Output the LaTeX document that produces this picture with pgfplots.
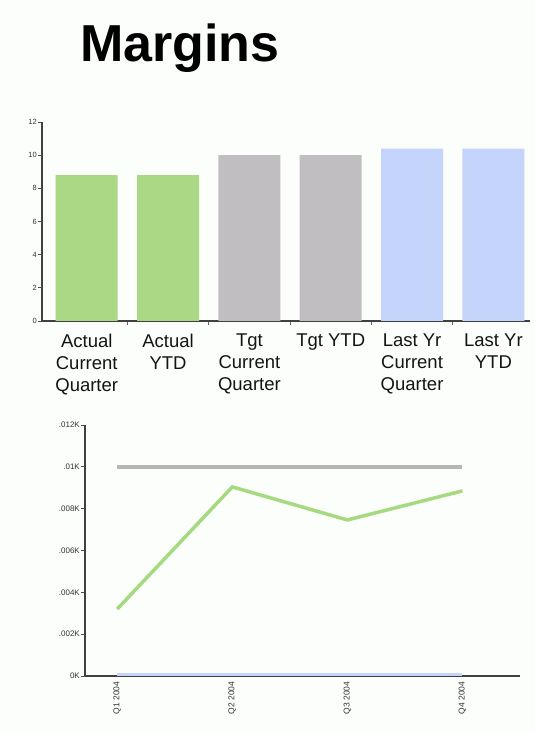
\documentclass[border=0pt]{standalone}
\usepackage{pgfplots}
\pgfplotsset{compat=1.18}
\usepackage{fontspec}
\setmainfont{Liberation Sans}
\definecolor{barGreen}{RGB}{170,216,132}
\definecolor{barGray}{RGB}{192,190,192}
\definecolor{barBlue}{RGB}{196,212,250}
\definecolor{lnGreen}{RGB}{166,218,128}
\definecolor{lnGray}{RGB}{182,182,182}
\definecolor{lnBlue}{RGB}{198,212,250}
\definecolor{bg}{RGB}{251,254,251}
\begin{document}
\begin{tikzpicture}[x=1pt,y=1pt]
\fill[bg] (0,0) rectangle (535,733);
\useasboundingbox (0,0) rectangle (535,733);
\node[anchor=base west, inner sep=0pt, font=\fontsize{52}{60}\selectfont\bfseries] at (80,671) {Margins};

\begin{axis}[at={(42pt,412pt)}, anchor=south west, scale only axis,
  width=488pt, height=199pt,
  xmin=-0.55, xmax=5.45, ymin=0, ymax=12,
  axis lines=left,
  axis line style={-, line width=1.3pt, black!75},
  xtick={0,...,5},
  xticklabels={{Actual\\Current\\Quarter},{Actual\\YTD},{Tgt\\Current\\Quarter},{Tgt YTD},{Last Yr\\Current\\Quarter},{Last Yr\\YTD}},
  xticklabel style={align=center, font=\fontsize{18.5}{22}\selectfont, text=black!92, inner sep=2pt, yshift=-6.5pt},
  major x tick style={draw=none},
  minor xtick={0.5,1.5,2.5,3.5,4.5},
  minor x tick style={black!60, line width=0.8pt},
  minor tick length=4pt,
  ytick={0,2,4,6,8,10,12},
  yticklabel style={font=\fontsize{7.5}{8}\selectfont, text=black!80, inner sep=1pt},
  major tick length=4pt,
  tick align=outside,
  tick style={black!70, line width=0.8pt},
  /pgf/number format/assume math mode=true,
]
\addplot[ybar, bar width=62pt, fill=barGreen, draw=none] coordinates {(0,8.8) (1,8.8)};
\addplot[ybar, bar width=62pt, fill=barGray, draw=none] coordinates {(2,10) (3,10)};
\addplot[ybar, bar width=62pt, fill=barBlue, draw=none] coordinates {(4,10.4) (5,10.4)};
\end{axis}

\begin{axis}[at={(85pt,57pt)}, anchor=south west, scale only axis,
  width=435pt, height=251pt,
  xmin=-0.28, xmax=3.5, ymin=0, ymax=0.012,
  clip=false,
  axis lines=left,
  axis line style={-, line width=1.3pt, black!75},
  scaled y ticks=false,
  ytick={0,0.002,0.004,0.006,0.008,0.01,0.012},
  yticklabels={0K,.002K,.004K,.006K,.008K,.01K,.012K},
  yticklabel style={font=\fontsize{8}{9}\selectfont, text=black!80, inner sep=1pt},
  xtick={0,1,2,3},
  xticklabels={Q1 2004,Q2 2004,Q3 2004,Q4 2004},
  xticklabel style={rotate=90, anchor=east, font=\fontsize{8.5}{9}\selectfont, text=black!80, inner sep=1.5pt},
  major tick length=4pt,
  tick align=outside,
  tick style={black!70, line width=0.8pt},
  major x tick style={draw=none},
]
\addplot[lnBlue, line width=3.5pt] coordinates {(0,0.00007) (1,0.00007) (2,0.00007) (3,0.00007)};
\addplot[lnGray, line width=3.5pt] coordinates {(0,0.01) (1,0.01) (2,0.01) (3,0.01)};
\addplot[lnGreen, line width=3.5pt] coordinates {(0,0.0032) (1,0.00904) (2,0.00746) (3,0.00885)};
\end{axis}
\end{tikzpicture}
\end{document}
